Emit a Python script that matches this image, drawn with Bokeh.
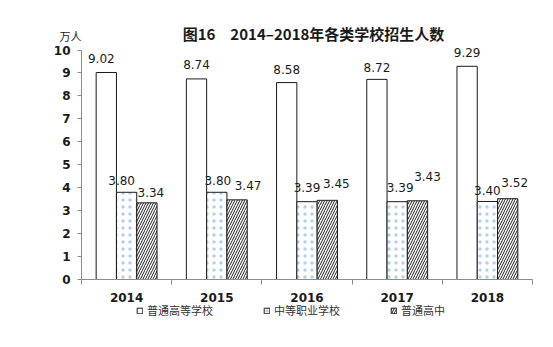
from bokeh.plotting import figure
from bokeh.models import (ColumnDataSource, Range1d, FixedTicker, Legend, LegendItem, Label)
from bokeh.transform import dodge
from bokeh.core.properties import value
from bokeh.embed import file_html
from bokeh.resources import INLINE

# ---- data ----
years = ["2014", "2015", "2016", "2017", "2018"]
higher_edu = [9.02, 8.74, 8.58, 8.72, 9.29]      # 普通高等学校
vocational = [3.80, 3.80, 3.39, 3.39, 3.40]      # 中等职业学校
high_school = [3.34, 3.47, 3.45, 3.43, 3.52]     # 普通高中
series_names = ["普通高等学校", "中等职业学校", "普通高中"]
y_ticks = list(range(0, 11))
title_text = "图16\u30002014–2018年各类学校招生人数"
unit_text = "万人"

# label nudges (screen px): horizontal shift and height above bar top
nudge_dx = [[-5, 0, 0, 0, 0], [-5, 1, 0, 3, 0], [4, 11, 9, 10, 7]]
nudge_dy = [[14, 14, 13, 12, 14], [12, 12, 14, 14, 11], [10, 14, 17, 24, 16]]

# ---- layout (pixels) ----
W, H = 553, 347
FL, FR, FT, FB = 40, 553, 0, 320          # frame edges
AX_L, AX_R, AX_0, AX_10 = 81, 532, 279, 49.5  # axis geometry in pixels
BAR_W = 0.225
CN = "Noto Sans CJK SC"
NUM = "DejaVu Sans"

n = len(years)
idx = list(range(n))
px_x = (AX_R - AX_L) / n
px_y = (AX_0 - AX_10) / 10.0
x0 = -0.5 - (AX_L - FL) / px_x
x1 = n - 0.5 + (FR - AX_R) / px_x
y0 = -(FB - AX_0) / px_y
y1 = (AX_0 - FT) / px_y

p = figure(width=W, height=H, output_backend="svg", toolbar_location=None,
           x_range=Range1d(x0, x1), y_range=Range1d(y0, y1), title=None,
           min_border_left=FL, min_border_right=W - FR, min_border_top=FT,
           min_border_bottom=H - FB)
p.outline_line_color = None
p.xgrid.grid_line_color = None
p.ygrid.grid_line_color = None
p.background_fill_color = "white"
p.border_fill_color = "white"

series = [higher_edu, vocational, high_school]
offsets = [-BAR_W, 0.0, BAR_W]
styles = [
    dict(fill_color="white"),
    dict(fill_color="white", hatch_pattern="dot", hatch_color="#6f9fd8",
         hatch_scale=7, hatch_weight=0.5, hatch_alpha=0.5),
    dict(fill_color="white", hatch_pattern="/", hatch_color="#222222",
         hatch_scale=5, hatch_weight=1),
]

renderers = []
for k, vals in enumerate(series):
    src = ColumnDataSource(dict(
        x=idx, top=vals,
        label=[f"{v:.2f}" for v in vals],
        dx=nudge_dx[k], dy=[-d for d in nudge_dy[k]],
    ))
    r = p.vbar(x=dodge("x", offsets[k], range=None), top="top", bottom=0,
               width=BAR_W, source=src, line_color="#1a1a1a", line_width=1,
               **styles[k])
    renderers.append(r)
    p.text(x=dodge("x", offsets[k], range=None), y="top", text="label",
           x_offset="dx", y_offset="dy", source=src,
           text_font=value(NUM), text_font_size="12px", text_color="#1a1a1a",
           text_align="center", text_baseline="middle")

# y axis (fixed at the left edge of the category area)
ya = p.yaxis[0]
ya.fixed_location = -0.5
ya.ticker = FixedTicker(ticks=y_ticks, minor_ticks=[])
ya.bounds = (0, 10)
ya.axis_line_color = "#8c8c8c"
ya.major_tick_line_color = "#8c8c8c"
ya.major_tick_in = 0
ya.major_tick_out = 4
ya.minor_tick_line_color = None
ya.major_label_text_font = NUM
ya.major_label_text_font_style = "bold"
ya.major_label_text_font_size = "12px"
ya.major_label_text_color = "#1a1a1a"
ya.major_label_standoff = 7

# x axis: labels at centers, ticks at category boundaries
xa = p.xaxis[0]
xa.fixed_location = 0
xa.bounds = (-0.5, n - 0.5)
xa.ticker = FixedTicker(ticks=idx, minor_ticks=[i - 0.5 for i in range(n + 1)])
xa.major_label_overrides = {i: y for i, y in zip(idx, years)}
xa.axis_line_color = "#8c8c8c"
xa.major_tick_line_color = None
xa.major_tick_in = 0
xa.major_tick_out = 0
xa.minor_tick_line_color = "#8c8c8c"
xa.minor_tick_in = 0
xa.minor_tick_out = 5
xa.major_label_text_font = NUM
xa.major_label_text_font_style = "bold"
xa.major_label_text_font_size = "12px"
xa.major_label_text_color = "#1a1a1a"
xa.major_label_standoff = 8

# title and unit (screen units relative to the frame)
p.add_layout(Label(x=313 - FL, y=FB - 33, x_units="screen", y_units="screen",
                   text=title_text, text_font=CN, text_font_style="bold",
                   text_font_size="15px", text_color="#1a1a1a",
                   text_align="center", text_baseline="middle"))
p.add_layout(Label(x=70 - FL, y=FB - 35, x_units="screen", y_units="screen",
                   text=unit_text, text_font=CN, text_font_size="11px",
                   text_color="#1a1a1a", text_align="center", text_baseline="middle"))

legend = Legend(items=[LegendItem(label=s, renderers=[r]) for s, r in zip(series_names, renderers)],
                orientation="horizontal", location=(136 - FL, 2),
                glyph_width=7, glyph_height=7, label_standoff=4, spacing=50,
                padding=0, margin=0, border_line_color=None,
                background_fill_alpha=0,
                label_text_font=CN, label_text_font_size="11px",
                label_text_color="#333333", label_height=11)
p.add_layout(legend, "center")

open("out.html", "w").write(file_html(p, INLINE))
